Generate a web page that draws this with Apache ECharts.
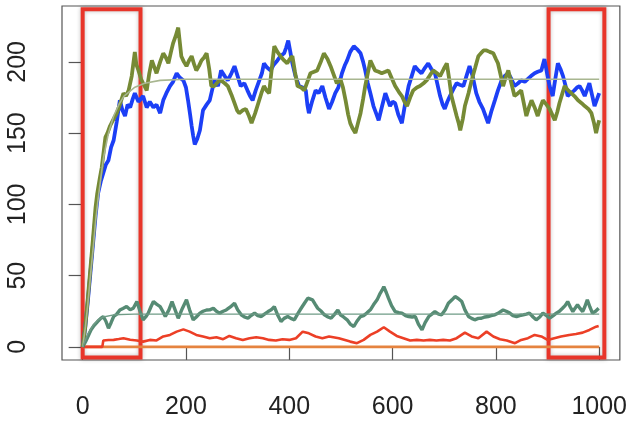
<!DOCTYPE html>
<html>
<head>
<meta charset="utf-8">
<script src="https://cdn.jsdelivr.net/npm/echarts@6/dist/echarts.min.js"></script>
<style>
  html, body { margin: 0; padding: 0; background: #fff; }
  #chart { width: 630px; height: 424px; }
</style>
</head>
<body>
<div id="chart"></div>
<script>
// tick labels
var xTicks = [0, 200, 400, 600, 800, 1000]
var yTicks = [0, 50, 100, 150, 200]

// [time, value]
var blue = [[0,0],[5,14],[10,32],[15,52],[20,72],[25,92],[30,108],[35,116],[40,122],[45,128],[50,131],[55,140],[60,145],[66,158],[72,173],[77,166],[82,162],[87,170],[92,168],[97,174],[101,178],[108,172],[117,176],[124,168],[130,172],[137,168],[143,170],[150,164],[156,173],[162,178],[169,183],[175,186],[182,192],[188,189],[195,187],[200,182],[204,173],[208,163],[211,155],[214,148],[217,142],[222,146],[227,152],[233,166],[240,170],[246,173],[255,187],[262,183],[268,194],[275,190],[281,187],[288,192],[294,197],[300,190],[306,183],[313,185],[319,180],[324,176],[329,173],[335,180],[342,187],[347,192],[351,199],[357,196],[364,194],[370,198],[377,201],[383,204],[390,206],[394,210],[398,215],[402,207],[406,199],[412,190],[419,183],[426,182],[432,180],[435,170],[438,164],[444,172],[451,180],[457,178],[464,183],[470,175],[477,167],[483,172],[489,178],[495,182],[502,192],[508,198],[512,201],[518,207],[525,211],[531,209],[538,206],[543,200],[547,194],[552,185],[557,178],[563,169],[568,164],[573,159],[579,168],[586,178],[590,174],[595,169],[600,172],[605,171],[611,163],[618,157],[624,170],[631,183],[637,190],[643,197],[650,194],[656,192],[663,196],[669,199],[675,195],[682,192],[687,184],[692,176],[697,170],[701,167],[706,172],[711,176],[718,181],[724,185],[730,184],[737,183],[743,190],[749,197],[755,190],[762,178],[768,172],[775,167],[780,162],[785,157],[791,165],[798,173],[804,180],[811,187],[817,190],[824,192],[830,188],[836,183],[843,185],[849,187],[856,186],[862,188],[868,190],[875,192],[881,193],[888,194],[894,202],[899,192],[904,183],[910,176],[915,188],[920,199],[925,195],[930,190],[935,183],[939,176],[945,178],[952,180],[957,182],[962,183],[967,180],[972,176],[977,181],[981,185],[986,177],[991,169],[996,174],[1000,178]]

var green = [[0,0],[5,14],[10,34],[15,55],[20,76],[25,98],[28,107],[33,118],[37,126],[41,138],[44,147],[48,150],[53,155],[60,160],[66,164],[72,170],[79,178],[84,176],[89,180],[95,190],[101,207],[104,198],[108,194],[113,188],[117,185],[124,180],[129,192],[134,201],[139,196],[143,192],[150,200],[156,206],[161,203],[166,199],[171,207],[175,213],[180,218],[185,224],[188,214],[191,204],[196,200],[201,197],[206,201],[211,204],[216,198],[220,194],[225,197],[230,201],[235,203],[240,206],[245,195],[249,183],[255,183],[262,186],[268,187],[275,185],[281,183],[288,177],[294,171],[299,166],[303,164],[310,166],[316,167],[322,162],[327,157],[334,164],[340,171],[346,178],[351,183],[356,180],[361,178],[366,195],[371,211],[377,207],[383,204],[390,201],[396,199],[401,202],[406,204],[411,193],[416,183],[423,182],[429,180],[435,186],[441,192],[448,193],[454,194],[461,200],[467,206],[474,202],[480,197],[486,191],[492,185],[499,188],[504,182],[509,173],[514,163],[518,157],[523,153],[528,150],[533,157],[538,164],[543,174],[547,183],[552,192],[557,201],[562,197],[566,194],[573,193],[579,192],[586,193],[592,194],[599,188],[605,183],[612,179],[618,176],[623,172],[628,169],[634,175],[640,180],[647,182],[653,183],[660,185],[666,187],[673,191],[679,194],[686,192],[692,190],[699,195],[705,199],[710,187],[714,176],[719,169],[724,162],[728,157],[731,152],[736,160],[740,169],[747,178],[753,187],[760,196],[766,204],[771,206],[776,208],[782,208],[788,207],[795,206],[800,202],[804,199],[809,191],[814,183],[819,189],[824,194],[830,185],[836,176],[843,178],[849,180],[854,171],[859,162],[864,168],[869,173],[875,168],[881,162],[886,168],[891,173],[898,170],[904,167],[909,163],[914,159],[919,165],[923,171],[928,177],[933,183],[940,180],[946,178],[952,176],[959,173],[966,171],[972,169],[979,167],[985,164],[990,157],[994,150],[997,155],[1000,159]]

var teal = [[0,0],[6,4],[16,11.9],[22,15],[29,17.8],[35,20],[40,21.3],[45,18],[50,13.1],[55,17],[60,21.3],[66,23],[72,25.9],[78,27],[85,28.3],[92,26],[98,27.1],[105,31.8],[111,25],[117,19],[122,21],[127,23.7],[132,28],[137,31.8],[143,30],[150,28.3],[155,25],[160,21.3],[167,26],[173,31.8],[179,26],[185,20.1],[193,27],[201,33],[207,26],[214,19],[220,21],[227,23.7],[233,25],[240,25.9],[246,26],[253,27.1],[259,25],[265,23.7],[272,25],[278,25.9],[286,28],[294,30.6],[300,26],[307,22.5],[313,21],[320,20.1],[326,22],[333,23.7],[339,22],[346,21.3],[352,23],[359,24.8],[365,26],[371,28.3],[378,22],[384,17.8],[390,20],[397,21.3],[403,20],[410,19],[416,23],[423,27.1],[430,31],[436,34.2],[445,33],[450,30],[455,27.1],[462,25],[468,22.5],[475,21],[481,20.1],[488,23],[494,25.9],[499,22.5],[505,21],[512,19],[518,16],[525,14.3],[531,18],[538,21.3],[544,22],[550,23.7],[557,26],[563,29.5],[570,33],[576,37.6],[580,40],[583,42.3],[588,38],[592,34.2],[598,29],[605,24.8],[612,24],[618,23.7],[625,22],[631,21.3],[638,21],[644,21.3],[650,16],[657,11.9],[663,17],[670,21.3],[676,23],[682,24.8],[689,23],[695,22.5],[702,26],[708,30.6],[715,33],[721,35.3],[727,34],[734,31.8],[740,26],[747,21.3],[753,20],[759,19],[766,20],[772,20.1],[779,21],[785,21.3],[791,22],[798,22.5],[806,24],[814,25.9],[820,25],[827,23.7],[833,22],[840,21.3],[846,22],[853,22.5],[859,23],[865,23.7],[872,21],[878,19],[885,21],[891,23.7],[898,22],[904,20.1],[911,22],[917,23.7],[923,25],[929,27.1],[934,29],[939,31.8],[944,28],[949,24.8],[953,27],[958,29.5],[963,27],[968,24.8],[972,28],[977,33],[982,28],[987,23.7],[993,25],[999,27.1]]

var red = [[0,0],[38,0],[40,4.5],[50,4.8],[60,4.9],[70,5.5],[79,6.1],[92,5],[105,4.5],[117,3.7],[130,4.9],[143,4.5],[156,7.3],[169,8.4],[182,10.7],[195,12.3],[207,10.7],[220,8.4],[233,7.3],[246,6.1],[259,6.8],[272,5.4],[284,7.7],[297,6.1],[310,4.9],[323,6.1],[336,6.8],[349,6.1],[361,4.9],[374,4.5],[387,5.4],[400,4.9],[413,6.1],[426,10.7],[438,9.5],[451,7.3],[464,6.1],[477,7.3],[496,6.1],[518,3.7],[531,2.6],[544,4.9],[557,8.4],[570,10.7],[583,13.8],[595,10.7],[608,7.7],[621,6.1],[634,4.5],[647,4.9],[660,4.5],[672,4.9],[685,4.5],[698,4.9],[711,4.5],[724,6.1],[740,10],[753,7.3],[766,6.1],[782,10.7],[795,7.3],[808,5.4],[821,4.5],[837,2.6],[849,4.9],[862,6.1],[875,8.4],[888,7.3],[900,4.9],[913,6.1],[926,7.3],[942,8.4],[955,9.1],[968,10],[981,11.9],[994,14.2],[999,14.7]]

var orange = [[0,0],[1000,0]]

// deterministic means
var greenMean = [[0,0],[5,13],[10,30],[15,50],[20,68],[25,88],[30,104],[35,118],[40,132],[50,150],[60,162],[70,170],[80,176],[90,179],[100,182],[120,185],[150,187],[200,187.8],[1000,187.8]]
var tealMean = [[0,0],[10,9],[20,15],[30,19],[40,21],[60,22.5],[100,23],[1000,23]]

// highlighted windows [from, to]
var boxes = [[0, 112], [902, 1010]]

var myChart = echarts.init(document.getElementById('chart'))

function lineSeries(data, color, width, z) {
  return {
    type: 'line',
    data: data,
    symbol: 'none',
    z: z,
    lineStyle: { color: color, width: width, join: 'bevel' },
  }
}

var labelFont = 'Liberation Sans, Arial, sans-serif'

var option = {
  animation: false,
  grid: {
    left: 62,
    top: 6,
    width: 560,
    height: 354,
    show: true,
    borderColor: '#555',
    borderWidth: 1.2,
    backgroundColor: 'transparent',
  },
  xAxis: {
    type: 'value',
    min: -40,
    max: 1040,
    splitLine: { show: false },
    axisLine: { show: false },
    axisTick: {
      show: true,
      length: 13,
      customValues: xTicks,
      lineStyle: { color: '#555', width: 1.2 },
    },
    axisLabel: {
      customValues: xTicks,
      formatter: function (v) { return String(v) },
      fontSize: 25,
      fontFamily: labelFont,
      color: '#222',
      margin: 35,
    },
  },
  yAxis: {
    type: 'value',
    min: -9.2,
    max: 239.2,
    splitLine: { show: false },
    axisLine: { show: false },
    axisTick: {
      show: true,
      length: 14,
      customValues: yTicks,
      lineStyle: { color: '#555', width: 1.2 },
    },
    axisLabel: {
      customValues: yTicks,
      formatter: function (v) { return String(v) },
      rotate: 90,
      fontSize: 25,
      fontFamily: labelFont,
      color: '#222',
      margin: 31,
    },
  },
  series: [
    lineSeries(orange, '#e5833f', 2.8, 2),
    lineSeries(red, '#ec3f26', 2.6, 3),
    lineSeries(teal, '#568b74', 3.4, 4),
    lineSeries(blue, '#1c3ff6', 3.8, 5),
    lineSeries(green, '#768a35', 3.8, 6),
    lineSeries(greenMean, '#a8b690', 1.6, 7),
    lineSeries(tealMean, '#6f9c86', 1.4, 7),
    {
      type: 'line',
      data: [[0, 0]],
      symbol: 'none',
      z: 20,
      lineStyle: { opacity: 0 },
      markArea: {
        silent: true,
        itemStyle: {
          color: 'rgba(0,0,0,0)',
          borderColor: '#e8352a',
          borderWidth: 4,
          shadowBlur: 4,
          shadowColor: 'rgba(0,0,0,0.25)',
        },
        data: boxes.map(function (b) {
          return [{ coord: [b[0], 237] }, { coord: [b[1], -7.5] }]
        }),
      },
    },
  ],
}
myChart.setOption(option)
</script>
</body>
</html>
